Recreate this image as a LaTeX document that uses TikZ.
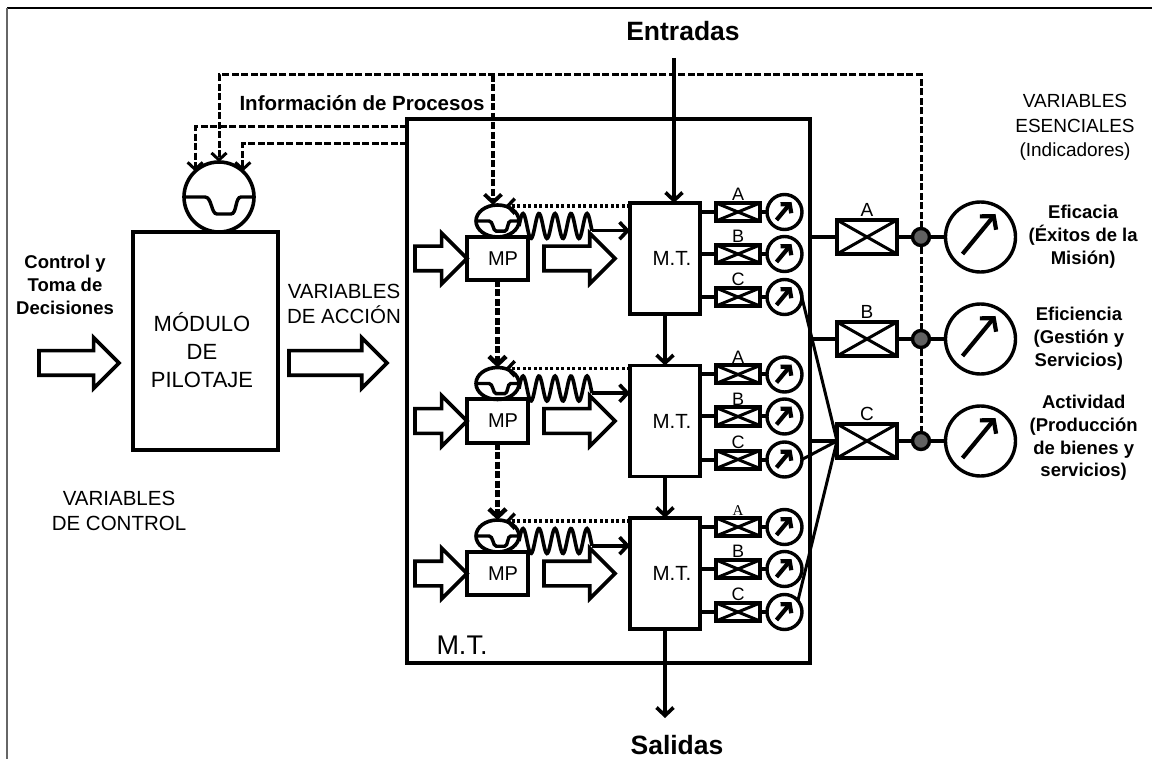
\documentclass[tikz,border=0pt]{standalone}
\usepackage{fontspec}
\setmainfont{Liberation Sans}
\newfontfamily\serifa{Liberation Serif}
\usepackage{tikz}
\usetikzlibrary{positioning,arrows.meta,calc,shapes.geometric,shapes.arrows}
\tikzset{
  caja/.style     = {draw, line width=3.6pt, outer sep=0pt, inner sep=0pt},
  cajamt/.style   = {caja, minimum width=70pt, minimum height=111pt, font=\fontsize{20.5}{24}\selectfont},
  cajamp/.style   = {caja, line width=4pt, minimum width=61pt, minimum height=43pt, font=\fontsize{20}{24}\selectfont},
  flecha/.style   = {draw, single arrow, line width=3.6pt, minimum width=47pt, single arrow head extend=13pt,
                     outer sep=0pt, inner xsep=0pt, inner ysep=10.5pt},
  tomaP/.style    = {draw, ellipse, line width=3.6pt, minimum width=43pt, minimum height=32pt, outer sep=0pt, inner sep=0pt},
  tomaG/.style    = {draw, circle, line width=3.6pt, minimum size=70pt, outer sep=0pt, inner sep=0pt},
  valvula/.style  = {caja, path picture={
                       \draw[line width=3pt] (path picture bounding box.north west) -- (path picture bounding box.south east);
                       \draw[line width=3pt] (path picture bounding box.south west) -- (path picture bounding box.north east);}},
  valvP/.style    = {valvula, line width=4pt, minimum width=44pt, minimum height=18pt},
  valvG/.style    = {valvula, line width=4pt, minimum width=60pt, minimum height=34pt},
  agujaP/.style   = {line width=4.2pt, -{Straight Barb[length=6pt,width=14pt]}},
  agujaG/.style   = {line width=4.2pt, -{Straight Barb[length=9pt,width=21pt]}},
  medP/.style     = {draw, circle, line width=3.4pt, minimum size=35pt, outer sep=0pt, inner sep=0pt, path picture={
                       \draw[agujaP] ([shift={(-8,8)}]path picture bounding box.center) -- ([shift={(7,-10)}]path picture bounding box.center);}},
  medG/.style     = {draw, circle, line width=3.4pt, minimum size=70pt, outer sep=0pt, inner sep=0pt, path picture={
                       \draw[agujaG] ([shift={(-18,17)}]path picture bounding box.center) -- ([shift={(15,-23)}]path picture bounding box.center);}},
  punto/.style    = {draw, circle, line width=3.4pt, fill=black!62, minimum size=17pt, outer sep=0pt, inner sep=0pt},
  linea/.style    = {line width=4pt},
  fina/.style     = {line width=3pt},
  sageta/.style   = {line width=3.6pt, -{Straight Barb[length=8pt,width=17pt]}},
  trazo/.style    = {line width=3pt, dash pattern=on 7pt off 2.5pt},
  trazoF/.style   = {line width=4.5pt, dash pattern=on 7pt off 2.5pt},
  puntos/.style   = {line width=3.4pt, dash pattern=on 3pt off 2.5pt},
  resorte/.style  = {line width=3.6pt},
  negrita/.style  = {align=center, inner sep=0pt, font=\fontsize{18.5}{22.8}\bfseries\selectfont},
  titulo/.style   = {inner sep=0pt, font=\fontsize{26.5}{30}\bfseries\selectfont},
  normal/.style   = {align=center, inner sep=0pt, font=\fontsize{20.5}{24.5}\selectfont},
  etiq/.style     = {inner sep=0pt, font=\fontsize{18}{20}\selectfont},
  etiqG/.style    = {inner sep=0pt, font=\fontsize{19}{22}\selectfont}
}
\newcommand{\onda}[2]{\draw[shift={(#1.center)},scale=#2,line width=3.4pt] (#1.west) -- (-14,0) .. controls (-7,0) and (-8,17) .. (-2,17) -- (12,17) .. controls (18,17) and (16,0) .. (22,0) -- (#1.east);}

\begin{document}
\begin{tikzpicture}[x=1pt,y=-1pt]
    \useasboundingbox (0,0) rectangle (1152,759);
    \draw[line width=1.3pt] (7,8) -- (1152,8);
    \draw[line width=2pt, black!60] (7,8) -- (7,759);

    % modulo de pilotaje
    \node[caja, minimum width=145pt, minimum height=218pt, anchor=north west] (modulo) at (133,232) {};
    \node[align=center, inner sep=0pt, font=\fontsize{22}{28}\selectfont] (modtxt) at (202,350) {MÓDULO\\ DE\\ PILOTAJE};
    \node[tomaG, above=0pt of modulo, xshift=13.5pt] (pil) {};
    \onda{pil}{1}
    \node[flecha, minimum height=80pt, left=14pt of modulo, yshift=-22pt] (fctrl) {};
    \node[flecha, minimum height=98pt, right=11pt of modulo, yshift=-22pt] (facc) {};
    \node[negrita] (ctrl) at (65,285) {Control y\\ Toma de\\ Decisiones};
    \node[normal] (vacc) at (344,304) {VARIABLES\\ DE ACCIÓN};
    \node[normal] (vctrl) at (119,511) {VARIABLES\\ DE CONTROL};

    % caja grande
    \node[caja, line width=3.6pt, minimum width=403pt, minimum height=544pt, anchor=north west] (grande) at (407,119) {};
    \node[etiqG, font=\fontsize{27}{30}\selectfont] (mtgr) at (462,645) {M.T.};
    \node[titulo] (ent) at (683,31) {Entradas};
    \node[titulo] (sal) at (677,745) {Salidas};
    \node[inner sep=0pt, font=\fontsize{20.5}{24}\bfseries\selectfont] (info) at (362,103) {Información de Procesos};

    % las tres filas
    \foreach \fil/\alto/\letraA in {1/203/A, 2/365.5/A, 3/518/{\serifa\fontsize{15}{18}\selectfont A}} {
        \node[cajamt, anchor=north west] (mt\fil) at (630,\alto) {\hspace{14pt}M.T.};
        \node[cajamp, left=102pt of mt\fil] (mp\fil) {\hspace{11pt}MP};
        \node[tomaP, above=0pt of mp\fil] (e\fil) {};
        \onda{e\fil}{0.6}
        \node[flecha, minimum height=52pt, left=0pt of mp\fil] (fe\fil) {};
        \node[flecha, minimum height=71pt, right=16pt of mp\fil] (fs\fil) {};
        \coordinate (ri\fil) at ($(e\fil.east)+(0,5)$);
        \coordinate (rf\fil) at ($(ri\fil)+(73,4.7)$);
        \draw[resorte, shift={(ri\fil)}] plot[domain=0:73, samples=90, smooth] (\x,{-12.5*sin(\x*22.5)});
        \draw[sageta] (rf\fil) -- (rf\fil -| mt\fil.west);
        \draw[puntos, -{Straight Barb[length=7pt,width=15pt]}] (e\fil.62 -| mt\fil.west) -- (e\fil.62);
        \foreach \nom/\letra/\dy in {a/\letraA/9, b/B/51, c/C/94} {
            \node[valvP, right=16pt of mt\fil.north east, yshift=-\dy pt] (v\nom\fil) {};
            \node[etiq, above=2pt of v\nom\fil] (l\nom\fil) {\letra};
            \node[medP, right=7pt of v\nom\fil] (g\nom\fil) {};
            \draw[linea] (v\nom\fil.west -| mt\fil.east) -- (v\nom\fil.west);
            \draw[linea] (v\nom\fil.east) -- (g\nom\fil.west);
        }
    }
    \draw[sageta] (mt1) -- (mt2);
    \draw[sageta] (mt2) -- (mt3);
    \coordinate (sali) at (mt3.south |- 0,718);
    \draw[sageta] (mt3) -- (sali);
    \coordinate (ent1) at (674,58);
    \draw[sageta] (ent1) -- (ent1 |- mt1.north);
    \draw[trazoF, -{Straight Barb[length=8pt,width=17pt]}] (mp1) -- (e2);
    \draw[trazoF, -{Straight Barb[length=8pt,width=17pt]}] (mp2) -- (e3);

    % valvulas y medidores de la derecha
    \foreach \nom/\letra/\y in {A/A/237, B/B/339, C/C/441} {
        \node[valvG] (V\nom) at (867,\y) {};
        \node[etiqG, above=3pt of V\nom] (L\nom) {\letra};
        \node[punto, right=15.5pt of V\nom] (p\nom) {};
        \node[medG, right=16pt of p\nom] (G\nom) {};
        \draw[linea] (V\nom.west -| grande.east) -- (V\nom.west);
        \draw[linea] (V\nom.east) -- (p\nom);
        \draw[linea] (p\nom) -- (G\nom.west);
    }
    \draw[fina] (gc1.30) -- (VC.west);
    \draw[fina] (gc2.east) -- (VC.west);
    \draw[fina] (gc3.40) -- (VC.west);

    % informacion de procesos
    \coordinate (cumbre) at (pil.north |- 0,75);
    \coordinate (i1) at (grande.west |- 0,127);
    \coordinate (i2) at (grande.west |- 0,144);
    \coordinate (sup) at (493,75);
    \draw[trazo] (pC.north) -- (pB.south);
    \draw[trazo] (pB.north) -- (pA.south);
    \draw[trazo, -{Straight Barb[length=7pt,width=15pt]}] (pA.north) |- (cumbre) -- (pil.north);
    \draw[trazo, -{Straight Barb[length=7pt,width=15pt]}] (i1) -| (pil.133);
    \draw[trazo, -{Straight Barb[length=7pt,width=15pt]}] (i2) -| (pil.47);
    \draw[trazoF, line width=3.8pt, -{Straight Barb[length=8pt,width=17pt]}] (sup) -- (sup |- e1.north);

    % textos de la derecha
    \node[normal, font=\fontsize{19}{24.5}\selectfont] (vesc) at (1075,127.5) {VARIABLES\\ ESENCIALES\\ (Indicadores)};
    \node[negrita, right=13pt of GA] (efic) {Eficacia\\ (Éxitos de la\\ Misión)};
    \node[negrita, right=18pt of GB] (efin) {Eficiencia\\ (Gestión y\\ Servicios)};
    \node[negrita, right=14pt of GC, yshift=3pt] (acti) {Actividad\\ (Producción\\ de bienes y\\ servicios)};
\end{tikzpicture}
\end{document}
